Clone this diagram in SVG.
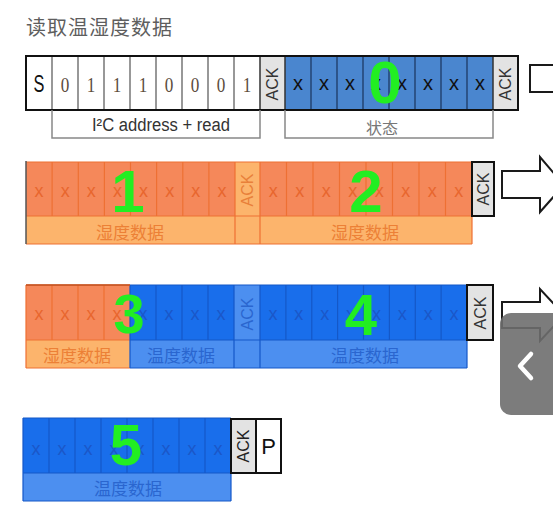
<svg xmlns="http://www.w3.org/2000/svg" width="553" height="517" viewBox="0 0 553 517">
<style>
.sans{font-family:"Liberation Sans",Arial,sans-serif}
.serif{font-family:"Liberation Serif","Times New Roman",serif}
.cjk{font-family:"Noto Sans CJK SC",sans-serif}
.ack{font-family:"Liberation Sans",Arial,sans-serif;font-size:16px;text-anchor:middle;dominant-baseline:central}
.num{font-family:"Liberation Sans",Arial,sans-serif;font-weight:bold;fill:#22EE22;text-anchor:middle}
.gray{fill:#E3E3E3}
.od{fill:#F5885A}
.ol{fill:#FCB46C}
.bd{fill:#196EEB}
.bl{fill:#4C8FF0}
.ox{fill:#E8662E;font-family:"Liberation Sans",Arial,sans-serif;font-size:18px;text-anchor:middle}
.bx{fill:#1B57C8;font-family:"Liberation Sans",Arial,sans-serif;font-size:18px;text-anchor:middle}
.olab{fill:#EC8036;font-family:"Noto Sans CJK SC",sans-serif;font-size:17px;text-anchor:middle}
.blab{fill:#2A66CF;font-family:"Noto Sans CJK SC",sans-serif;font-size:17px;text-anchor:middle}
.oline{stroke:#EE7033;stroke-width:1.2;fill:none}
.bline{stroke:#1458C8;stroke-width:1.2;fill:none}
.frame{fill:none;stroke:#111;stroke-width:2}
.arrow{fill:#fff;stroke:#1a1a1a;stroke-width:2;stroke-linejoin:miter}
</style>

<text id="title" class="cjk" x="26" y="35" font-size="20" letter-spacing="1" fill="#5E5E5E">读取温湿度数据</text>

<g id="row0">
  <rect x="26" y="56" width="234" height="54" fill="#fff"/>
  <rect x="260" y="56" width="25" height="54" class="gray"/>
  <rect x="285" y="56" width="208" height="54" fill="#4A86CF"/>
  <rect x="493" y="56" width="25" height="54" class="gray"/>
  <path d="M52,56V110M78,56V110M104,56V110M130,56V110M156,56V110M182,56V110M208,56V110M234,56V110" stroke="#777" stroke-width="1.5"/>
  <path d="M260,56V110M285,56V110M493,56V110" stroke="#333" stroke-width="1.5"/>
  <path d="M311,56V110M337,56V110M363,56V110M389,56V110M415,56V110M441,56V110M467,56V110" stroke="#1E3A66" stroke-width="1.3"/>
  <rect x="26" y="56" width="492" height="54" class="frame"/>
  <text class="sans" font-size="24" text-anchor="middle" transform="translate(39,92) scale(0.68,1)" fill="#111">S</text>
  <g class="serif" font-size="22" text-anchor="middle" fill="#5C4C3C">
    <text transform="translate(65,92) scale(0.78,1)">0</text>
    <text transform="translate(91,92) scale(0.78,1)">1</text>
    <text transform="translate(117,92) scale(0.78,1)">1</text>
    <text transform="translate(143,92) scale(0.78,1)">1</text>
    <text transform="translate(169,92) scale(0.78,1)">0</text>
    <text transform="translate(195,92) scale(0.78,1)">0</text>
    <text transform="translate(221,92) scale(0.78,1)">0</text>
    <text transform="translate(247,92) scale(0.78,1)">1</text>
  </g>
  <text class="ack" transform="translate(272.5,84) rotate(-90)" fill="#333">ACK</text>
  <g class="sans" font-size="20" text-anchor="middle" fill="#111">
    <text x="298" y="90">x</text><text x="324" y="90">x</text><text x="350" y="90">x</text><text x="376" y="90">x</text>
    <text x="402" y="90">x</text><text x="428" y="90">x</text><text x="454" y="90">x</text><text x="480" y="90">x</text>
  </g>
  <text class="ack" transform="translate(505.5,84) rotate(-90)" fill="#333">ACK</text>
  <path d="M52,110V138H260V110M285,110V138H493V110" fill="none" stroke="#888" stroke-width="1.5"/>
  <text class="sans" x="161" y="131" font-size="18" textLength="138" lengthAdjust="spacingAndGlyphs" text-anchor="middle" fill="#333">I²C address + read</text>
  <text class="cjk" x="382" y="134" font-size="16" text-anchor="middle" fill="#777">状态</text>
  <text class="num" x="385" y="103" font-size="60">0</text>
</g>

<g id="row1">
  <rect x="26" y="162" width="209" height="54" class="od"/>
  <rect x="235" y="162" width="25" height="82" class="ol"/>
  <rect x="260" y="162" width="212" height="54" class="od"/>
  <rect x="26" y="216" width="209" height="28" class="ol"/>
  <rect x="260" y="216" width="212" height="28" class="ol"/>
  <rect x="472" y="162" width="22" height="54" class="gray"/>
  <path class="oline" d="M52.1,162V216M78.3,162V216M104.4,162V216M130.5,162V216M156.6,162V216M182.8,162V216M208.9,162V216M286.5,162V216M313,162V216M339.5,162V216M366,162V216M392.5,162V216M419,162V216M445.5,162V216"/>
  <path class="oline" stroke-width="1.6" d="M26,162H472M26,216H472M235,162V244M260,162V244M26,244H472M472,162V244"/>
  <path d="M26,161V244" stroke="#555" stroke-width="1.5"/>
  <rect x="472" y="162" width="22" height="54" class="frame"/>
  <g class="ox">
    <text x="39.1" y="197">x</text><text x="65.2" y="197">x</text><text x="91.3" y="197">x</text><text x="117.4" y="197">x</text>
    <text x="143.6" y="197">x</text><text x="169.7" y="197">x</text><text x="195.8" y="197">x</text><text x="221.9" y="197">x</text>
    <text x="273.3" y="197">x</text><text x="299.8" y="197">x</text><text x="326.3" y="197">x</text><text x="352.8" y="197">x</text>
    <text x="379.3" y="197">x</text><text x="405.8" y="197">x</text><text x="432.3" y="197">x</text><text x="458.8" y="197">x</text>
  </g>
  <text class="ack" transform="translate(247.5,190) rotate(-90)" fill="#E8803A">ACK</text>
  <text class="ack" transform="translate(483,189) rotate(-90)" fill="#333">ACK</text>
  <text class="olab" x="130" y="239">湿度数据</text>
  <text class="olab" x="365" y="239">湿度数据</text>
  <text class="num" x="128" y="212" font-size="60">1</text>
  <text class="num" x="366" y="212" font-size="60">2</text>
</g>

<g id="row2">
  <rect x="26" y="285" width="104" height="55" class="od"/>
  <rect x="130" y="285" width="104" height="55" class="bd"/>
  <rect x="234" y="285" width="26" height="83" class="bl"/>
  <rect x="260" y="285" width="207" height="55" class="bd"/>
  <rect x="26" y="340" width="104" height="28" class="ol"/>
  <rect x="130" y="340" width="104" height="28" class="bl"/>
  <rect x="260" y="340" width="207" height="28" class="bl"/>
  <rect x="467" y="285" width="26" height="55" class="gray"/>
  <path class="oline" d="M52,285V340M78,285V340M104,285V340M26,285H130M26,340H130M26,368H130M26,285V368"/>
  <path class="bline" d="M156,285V340M182,285V340M208,285V340M285.9,285V340M311.8,285V340M337.6,285V340M363.5,285V340M389.4,285V340M415.3,285V340M441.1,285V340"/>
  <path class="bline" stroke-width="1.5" d="M130,285H467M130,340H467M130,368H467M130,285V368M234,285V368M260,285V368M467,285V368"/>
  <path d="M26,285H130" stroke="#C05020" stroke-width="1.5"/>
  <rect x="467" y="285" width="26" height="55" class="frame"/>
  <g class="ox">
    <text x="39" y="320">x</text><text x="65" y="320">x</text><text x="91" y="320">x</text><text x="117" y="320">x</text>
  </g>
  <g class="bx">
    <text x="143" y="320">x</text><text x="169" y="320">x</text><text x="195" y="320">x</text><text x="221" y="320">x</text>
    <text x="272.9" y="320">x</text><text x="298.8" y="320">x</text><text x="324.7" y="320">x</text><text x="350.6" y="320">x</text>
    <text x="376.4" y="320">x</text><text x="402.3" y="320">x</text><text x="428.2" y="320">x</text><text x="454.1" y="320">x</text>
  </g>
  <text class="ack" transform="translate(247,314) rotate(-90)" fill="#2A66CF">ACK</text>
  <text class="ack" transform="translate(480,313) rotate(-90)" fill="#333">ACK</text>
  <text class="olab" x="77" y="362">湿度数据</text>
  <text class="blab" x="181" y="362">温度数据</text>
  <text class="blab" x="365" y="362">温度数据</text>
  <text class="num" x="129" y="333" font-size="56">3</text>
  <text class="num" x="361" y="335" font-size="58">4</text>
</g>

<g id="row3">
  <rect x="23" y="418" width="208" height="55" class="bd"/>
  <rect x="23" y="473" width="208" height="28" class="bl"/>
  <rect x="231" y="419" width="25" height="54" class="gray"/>
  <rect x="256" y="419" width="25" height="54" fill="#fff"/>
  <path class="bline" d="M49,418V473M75,418V473M101,418V473M127,418V473M153,418V473M179,418V473M205,418V473"/>
  <path class="bline" stroke-width="1.5" d="M23,418H231M23,473H231M23,501H231M23,418V501M231,473V501"/>
  <path d="M231,419H281V473H231ZM256,419V473" fill="none" stroke="#111" stroke-width="2"/>
  <g class="bx">
    <text x="36" y="455">x</text><text x="62" y="455">x</text><text x="88" y="455">x</text><text x="114" y="455">x</text>
    <text x="140" y="455">x</text><text x="166" y="455">x</text><text x="192" y="455">x</text><text x="218" y="455">x</text>
  </g>
  <text class="ack" transform="translate(243.5,446) rotate(-90)" fill="#222">ACK</text>
  <text class="sans" x="268.5" y="454" font-size="22" text-anchor="middle" fill="#111">P</text>
  <text class="blab" x="128" y="495">温度数据</text>
  <text class="num" x="126" y="465" font-size="58">5</text>
</g>

<g id="connectors">
  <polygon class="arrow" points="530,65 568,65 568,52 592,78 568,105 568,92 530,92"/>
  <polygon class="arrow" points="502,171 540,171 540,157 564,185 540,212 540,198 502,198"/>
  <polygon class="arrow" points="502,302 540,302 540,289 564,315 540,341 540,328 502,328"/>
</g>

<g id="overlay-button">
  <rect x="500" y="313" width="70" height="102" rx="11" fill="#6E6E6E" fill-opacity="0.9"/>
  <polyline points="531,354 520,366 531,378" fill="none" stroke="#fff" stroke-width="4.5" stroke-linecap="round" stroke-linejoin="round"/>
</g>
</svg>
